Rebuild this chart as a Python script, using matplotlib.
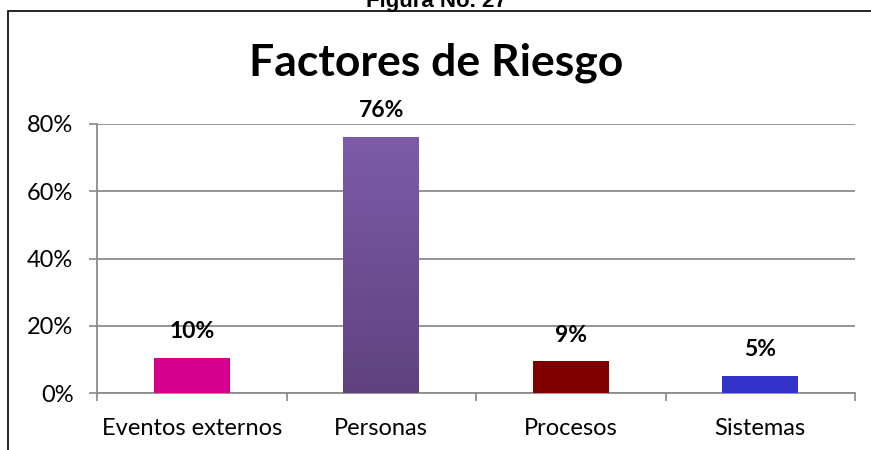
import matplotlib
matplotlib.use("Agg")
import matplotlib.pyplot as plt
import numpy as np
from matplotlib.patches import Rectangle
from matplotlib.colors import LinearSegmentedColormap

categories = ["Eventos externos", "Personas", "Procesos", "Sistemas"]
values = [0.104, 0.762, 0.094, 0.052]
labels = ["10%", "76%", "9%", "5%"]
colors = ["#D6008F", "#6E5097", "#800000", "#3333CC"]
yticks = [0, 0.2, 0.4, 0.6, 0.8]
ytick_labels = ["0%", "20%", "40%", "60%", "80%"]

plt.rcParams['font.family'] = ['Lato', 'DejaVu Sans']

W, H = 871, 450
fig = plt.figure(figsize=(W/100, H/100), dpi=100)

# outer frame
fig.patches.append(Rectangle((8/W, -0.1), 1.2, 1 - 11/H + 0.1, transform=fig.transFigure,
                             fill=False, edgecolor="black", linewidth=1.2))
fig.text(436/W, 1 - 7/H, "Figura No. 27", ha="center", va="baseline",
         fontsize=16, fontweight="bold", family="Liberation Sans")
fig.text(436/W, 1 - 63/H, "Factores de Riesgo", ha="center", va="center",
         fontsize=32, fontweight="bold")

ax = fig.add_axes([97/W, 1 - 393/H, (855-97)/W, (393-124)/H])
x = np.arange(len(categories))
bars = ax.bar(x, values, width=0.4, color=colors, zorder=3)

# gradient for Personas bar
b = bars[1]
bx, by = b.get_x(), b.get_y()
bw, bh = b.get_width(), b.get_height()
grad = np.linspace(0, 1, 256).reshape(-1, 1)
cmap = LinearSegmentedColormap.from_list("g", ["#5E437F", "#7D5BA8"])
im = ax.imshow(grad, extent=[bx, bx+bw, by, by+bh], origin="lower", aspect="auto",
               cmap=cmap, zorder=4)
im.set_clip_path(b)

for xi, v, lab in zip(x, values, labels):
    ax.annotate(lab, (xi, v), xytext=(0, 19), textcoords="offset points",
                ha="center", va="center", fontsize=16.5, fontweight="bold")

ax.set_xlim(-0.5, len(categories) - 0.5)
ax.set_ylim(0, 0.8)
ax.set_yticks(yticks)
ax.set_yticklabels(ytick_labels, fontsize=17)
ax.set_xticks(x)
ax.set_xticklabels(categories, fontsize=17)
ax.set_xticks(np.arange(-0.5, len(categories)), minor=True)
ax.tick_params(axis="x", which="major", length=0, pad=18)
ax.tick_params(axis="x", which="minor", length=6, color="#888888", width=1.2)
ax.tick_params(axis="y", length=6, color="#888888", width=1.2, pad=11)
ax.grid(axis="y", color="#8C8C8C", linewidth=1.3, zorder=0)
for s in ["top", "right"]:
    ax.spines[s].set_visible(False)
for s in ["left", "bottom"]:
    ax.spines[s].set_color("#8C8C8C")
    ax.spines[s].set_linewidth(1.3)
ax.set_facecolor("none")

fig.savefig("out.png", dpi=100)
